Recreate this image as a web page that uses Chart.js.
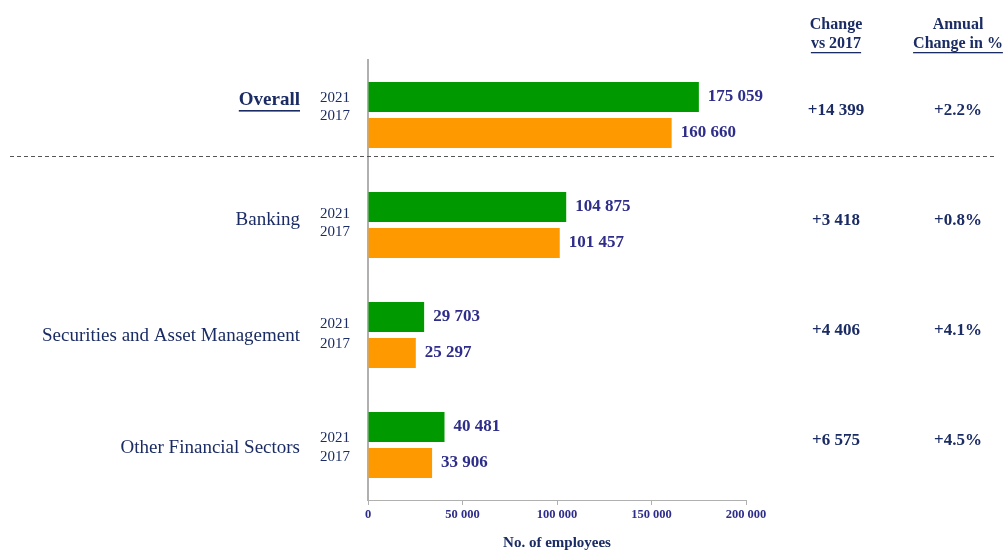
<!DOCTYPE html>
<html>
<head>
<meta charset="utf-8">
<script src="https://cdn.jsdelivr.net/npm/chart.js@4"></script>
<style>
html,body{margin:0;padding:0;background:#fff;}
#wrap{width:1006px;height:552px;position:relative;}
</style>
</head>
<body>
<div id="wrap"><canvas id="c" width="1006" height="552"></canvas></div>
<script>
const categories = ["Overall", "Banking", "Securities and Asset Management", "Other Financial Sectors"];
const yearLabels = ["2021", "2017"];
const employees2021 = [175059, 104875, 29703, 40481];
const employees2017 = [160660, 101457, 25297, 33906];
const changeVs2017 = ["+14 399", "+3 418", "+4 406", "+6 575"];
const annualChange = ["+2.2%", "+0.8%", "+4.1%", "+4.5%"];
const xTicks = [0, 50000, 100000, 150000, 200000];

const SERIF = "'Liberation Serif', 'Times New Roman', serif";
const NAVY = "#1b2c64";
const VALBLUE = "#2e2e8a";

function fmt(n){ return String(n).replace(/\B(?=(\d{3})+(?!\d))/g, " "); }

// per-category vertical offsets for text (style only)
const catLabelOff = [-15, -5, 1, 3];
const yr1Off = [-17, -11, -11, -7];
const yr2Off = [1, 7, 9, 12];

const overlay = {
  id: 'overlay',
  afterDraw(chart){
    const ctx = chart.ctx;
    const ys = chart.scales.y;
    ctx.save();
    // dashed separator
    const p0 = ys.getPixelForValue(0), p1 = ys.getPixelForValue(1);
    const dy = Math.round(p0 + 0.37*(p1-p0)) + 0.5;
    ctx.strokeStyle = "#555";
    ctx.lineWidth = 1;
    ctx.setLineDash([4,3]);
    ctx.beginPath(); ctx.moveTo(10, dy); ctx.lineTo(995, dy); ctx.stroke();
    ctx.setLineDash([]);

    ctx.textBaseline = 'middle';
    categories.forEach((cat, i) => {
      const cy = ys.getPixelForValue(i);
      // category label
      ctx.fillStyle = NAVY;
      ctx.textAlign = 'right';
      if (i === 0) {
        ctx.font = "bold 19px " + SERIF;
        const ly = cy + catLabelOff[i];
        ctx.fillText(cat, 300, ly);
        const w = ctx.measureText(cat).width;
        ctx.fillRect(300 - w, ly + 10, w, 1.6);
      } else {
        ctx.font = "19px " + SERIF;
        ctx.fillText(cat, 300, cy + catLabelOff[i]);
      }
      // year labels
      ctx.font = "15px " + SERIF;
      ctx.textAlign = 'left';
      ctx.fillText(yearLabels[0], 320, cy + yr1Off[i]);
      ctx.fillText(yearLabels[1], 320, cy + yr2Off[i]);
      // right columns
      ctx.font = "bold 17px " + SERIF;
      ctx.textAlign = 'center';
      ctx.fillText(changeVs2017[i], 836, cy - 4);
      ctx.fillText(annualChange[i], 958, cy - 4);
    });

    // value labels
    ctx.font = "bold 17px " + SERIF;
    ctx.fillStyle = VALBLUE;
    ctx.textAlign = 'left';
    chart.data.datasets.forEach((ds, di) => {
      chart.getDatasetMeta(di).data.forEach((bar, i) => {
        ctx.fillText(fmt(ds.data[i]), bar.x + 9, bar.y);
      });
    });

    // headers
    ctx.fillStyle = NAVY;
    ctx.font = "bold 16px " + SERIF;
    ctx.textAlign = 'center';
    const hdr = [[836, "Change", "vs 2017"], [958, "Annual", "Change in %"]];
    hdr.forEach(h => {
      ctx.fillText(h[1], h[0], 25);
      ctx.fillText(h[2], h[0], 44);
      const w = ctx.measureText(h[2]).width;
      ctx.fillRect(h[0] - w/2, 52, w, 1.3);
    });
    ctx.restore();
  }
};

new Chart(document.getElementById('c'), {
  type: 'bar',
  data: {
    labels: categories,
    datasets: [
      { label: yearLabels[0], data: employees2021, backgroundColor: '#009900', borderWidth: 0 },
      { label: yearLabels[1], data: employees2017, backgroundColor: '#ff9900', borderWidth: 0 }
    ]
  },
  options: {
    indexAxis: 'y',
    responsive: false,
    animation: false,
    events: [],
    categoryPercentage: 0.6545,
    barPercentage: 0.833,
    layout: { padding: { left: 368, right: 260, top: 60, bottom: 0 } },
    plugins: { legend: { display: false }, tooltip: { enabled: false } },
    scales: {
      y: {
        display: true,
        ticks: { display: false },
        grid: { display: false },
        border: { display: true, color: '#b0b0b0', width: 2 },
        afterFit(s){ s.width = 0; }
      },
      x: {
        min: 0, max: 200000,
        afterBuildTicks(s){ s.ticks = xTicks.map(v => ({ value: v })); },
        ticks: {
          color: VALBLUE,
          font: { family: SERIF, size: 12.5, weight: 'bold' },
          padding: 2,
          maxRotation: 0,
          callback: v => fmt(v)
        },
        grid: { drawOnChartArea: false, drawTicks: true, tickLength: 5, color: '#b0b0b0' },
        border: { display: true, color: '#b0b0b0', width: 1 },
        title: {
          display: true, text: 'No. of employees', color: NAVY,
          font: { family: SERIF, size: 15, weight: 'bold' },
          padding: { top: 15, bottom: 0 }
        },
        afterFit(s){ s.height = 52; }
      }
    }
  },
  plugins: [overlay]
});
</script>
</body>
</html>
